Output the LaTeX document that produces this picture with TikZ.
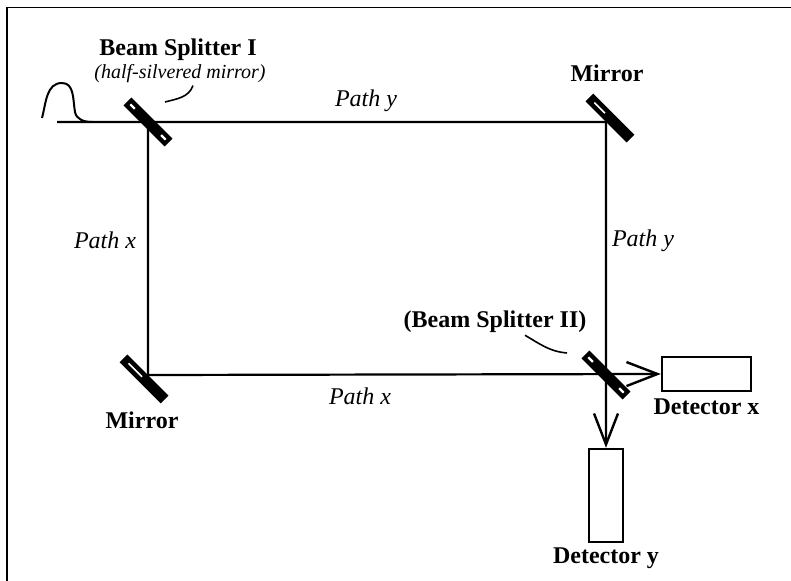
\documentclass[tikz,border=0pt]{standalone}
\usepackage{fontspec}
\setmainfont{Liberation Serif}
\usepackage{tikz}
\usetikzlibrary{positioning, arrows.meta, calc, backgrounds}

\begin{document}
\begin{tikzpicture}[x=0.5pt, y=-0.5pt,
        font=\fontsize{12}{14}\selectfont,
        beam/.style={line width=1.1pt},
        ray/.style={beam, -{Straight Barb[length=15.5pt, width=12pt, line width=1.2pt]}},
        mirror/.style={rectangle, fill=black, rotate=-45, minimum width=29pt, minimum height=5.5pt, inner sep=0pt, outer sep=0pt},
        glint/.style={white, line width=1.1pt},
        detector/.style={rectangle, draw=black, line width=1.2pt, inner sep=0pt},
        lbl/.style={font=\fontsize{12}{14}\selectfont\bfseries, inner sep=1pt},
        note/.style={font=\fontsize{10}{12}\selectfont\itshape, inner sep=1pt},
        pathlbl/.style={font=\fontsize{12}{14}\selectfont\itshape, inner sep=1pt}]

    % frame
    \useasboundingbox (0,0) rectangle (791,581);
    \draw[line width=0.6pt] (791,7.5) -- (7,7.5) -- (7,581);

    % optics
    \node[mirror] (bs1) at (148,122) {};
    \node[mirror] (m1) at (609.9,118.1) {};
    \node[mirror] (m2) at (144.1,378.9) {};
    \node[mirror] (bs2) at (606,375) {};
    \node[detector, minimum width=44.5pt, minimum height=17pt] (dx) at (706.5,374) {};
    \node[detector, minimum width=17pt, minimum height=46.5pt] (dy) at (606,495.5) {};

    % silvering
    \draw[glint] ($(bs1.west)!0.07!(bs1.east)$) -- ($(bs1.west)!0.18!(bs1.east)$);
    \draw[glint] ($(bs1.west)!0.82!(bs1.east)$) -- ($(bs1.west)!0.93!(bs1.east)$);
    \draw[glint] ($(bs2.west)!0.07!(bs2.east)$) -- ($(bs2.west)!0.18!(bs2.east)$);
    \draw[glint] ($(bs2.west)!0.82!(bs2.east)$) -- ($(bs2.west)!0.93!(bs2.east)$);
    \draw[glint, line width=0.8pt] ($(m1.west)!0.12!(m1.east)$) -- ($(m1.west)!0.38!(m1.east)$);
    \draw[glint, line width=0.8pt] ($(m2.west)!0.12!(m2.east)$) -- ($(m2.west)!0.45!(m2.east)$);

    % pulse
    \coordinate (src) at (57,122);
    \draw[line width=1pt] (42,118) to[out=75,in=180] (62,83) to[out=0,in=100] (75,112) to[out=-80,in=180] (92,122);

    % beams
    \begin{scope}[on background layer]
    \draw[beam] (src) -- (m1.south);
    \draw[beam] (bs1.center) -- (m2.north);
    \draw[ray] (m2.north) -- (dx.west);
    \draw[ray] (m1.south) -- (dy.north);
    \end{scope}

    % labels
    \node[lbl] (bs1lbl) at (178,50) {Beam Splitter I};
    \node[note] (bs1note) at (180,74) {(half-silvered mirror)};
    \coordinate (bs1tip) at (165,102);
    \draw[line width=0.8pt] (bs1tip) to[out=15,in=-110] ([xshift=6.5pt]bs1note.south);
    \node[lbl] (m1lbl) at (607,73) {Mirror};
    \node[lbl] (m2lbl) at (142,420) {Mirror};
    \node[lbl] (bs2lbl) at (495,322) {(Beam Splitter II)};
    \coordinate (bs2tip) at (567,353);
    \draw[line width=0.8pt] ([xshift=15pt]bs2lbl.south) to[out=-30,in=175] (bs2tip);
    \node[lbl, below=2pt of dx] (dxlbl) {Detector x};
    \node[lbl, below=1pt of dy] (dylbl) {Detector y};
    \node[pathlbl] (py1) at (366,101) {Path y};
    \node[pathlbl] (py2) at (643,241) {Path y};
    \node[pathlbl] (px1) at (105,240) {Path x};
    \node[pathlbl] (px2) at (360,396) {Path x};
\end{tikzpicture}
\end{document}
